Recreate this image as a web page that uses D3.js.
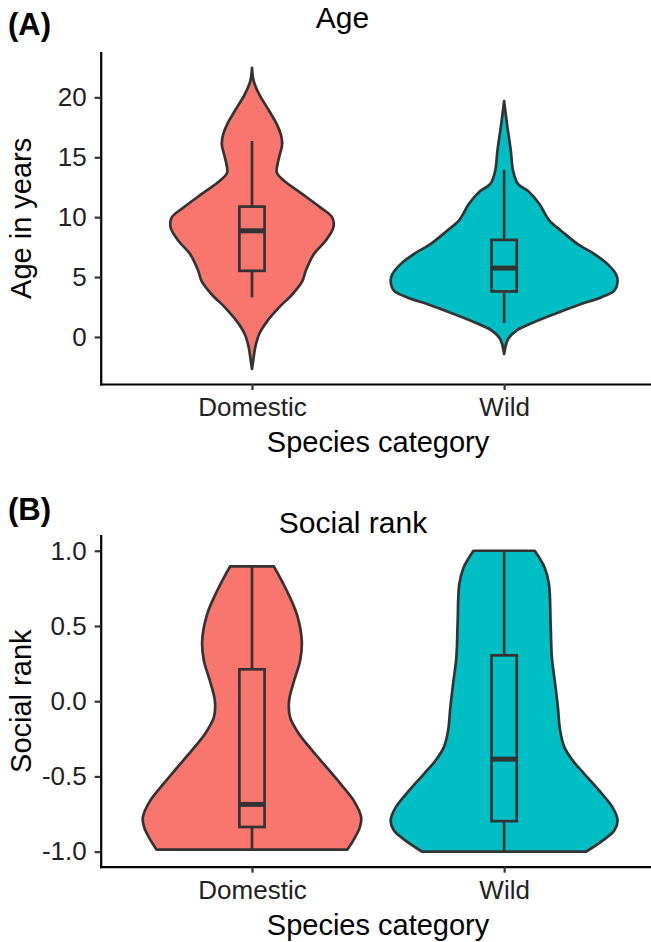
<!DOCTYPE html>
<html>
<head>
<meta charset="utf-8">
<script src="https://cdn.jsdelivr.net/npm/d3@7"></script>
<style>
  body { margin: 0; background: #fff; }
  text { font-family: "Liberation Sans", Arial, sans-serif; }
</style>
</head>
<body>
<div id="chart"></div>
<script>
const categories = ["Domestic", "Wild"];
const colors = ["#F8766D", "#00BFC4"];

// (A) Age: tick values and violin outlines (value, relative half width, 1 = widest)
const ageTicks = [0, 5, 10, 15, 20];
const ageDomesticValues = [22.47, 21.36, 20.25, 18.86, 17.75, 16.92, 16.08, 15.25, 14.42, 13.72, 13.03, 11.92, 10.8, 9.97, 9.14, 8.03, 6.92, 5.53, 4.69, 3.58, 2.47, 1.36, 0.25, -0.86, -1.97, -2.67];
const ageDomesticWidths = [0, 0.015, 0.064, 0.152, 0.219, 0.254, 0.266, 0.246, 0.225, 0.219, 0.283, 0.445, 0.605, 0.708, 0.717, 0.649, 0.546, 0.474, 0.445, 0.357, 0.239, 0.138, 0.064, 0.029, 0.011, 0];
const ageWildValues = [19.69, 17.75, 15.53, 13.86, 12.75, 12.19, 11.08, 10.25, 9.69, 8.86, 7.75, 6.92, 6.08, 5.25, 4.69, 3.86, 3.3, 2.75, 1.92, 1.08, 0.53, -0.17, -1.42];
const ageWildWidths = [0, 0.026, 0.059, 0.079, 0.123, 0.211, 0.313, 0.362, 0.401, 0.503, 0.649, 0.796, 0.912, 0.985, 1.0, 0.971, 0.854, 0.678, 0.445, 0.225, 0.108, 0.035, 0];
// box stats per category
const ageLower = [3.3, 1.17];
const ageQ1 = [5.52, 3.8];
const ageMedian = [8.86, 5.75];
const ageQ3 = [10.88, 8.1];
const ageUpper = [16.36, 13.94];

// (B) Social rank
const rankTicks = [-1, -0.5, 0, 0.5, 1];
const rankTickLabels = ["-1.0", "-0.5", "0.0", "0.5", "1.0"];
const rankDomesticValues = [0.896, 0.734, 0.579, 0.402, 0.269, 0.136, 0.003, -0.108, -0.218, -0.329, -0.44, -0.55, -0.661, -0.772, -0.839, -0.927, -0.987];
const rankDomesticWidths = [0.193, 0.307, 0.395, 0.439, 0.424, 0.371, 0.327, 0.336, 0.415, 0.532, 0.658, 0.781, 0.897, 0.962, 0.95, 0.892, 0.84];
const rankWildValues = [1.0, 0.889, 0.779, 0.513, 0.291, 0.114, -0.041, -0.196, -0.307, -0.395, -0.484, -0.595, -0.706, -0.794, -0.86, -0.927, -1.0];
const rankWildWidths = [0.27, 0.357, 0.395, 0.41, 0.421, 0.45, 0.474, 0.494, 0.532, 0.605, 0.708, 0.839, 0.956, 1.0, 0.971, 0.868, 0.724];
const rankLower = [-0.987, -1.0];
const rankQ1 = [-0.836, -0.797];
const rankMedian = [-0.686, -0.385];
const rankQ3 = [0.212, 0.305];
const rankUpper = [0.896, 1.0];

const width = 651;
const height = 942;
const left = 100.7;  // y axis position
const right = 655.4; // panel runs a little past the picture edge
const dark = "#333333";
const lw = 2.7;

const svg = d3.select("#chart")
  .append("svg")
  .attr("width", width)
  .attr("height", height)
  .attr("viewBox", `0 0 ${width} ${height}`);

const x = d3.scalePoint().domain(categories).range([left, right]).padding(0.6);
const step = x.step();

function drawPanel(p) {
  const g = svg.append("g");

  const all = p.violins.flatMap((v) => v.values);
  const [lo, hi] = d3.extent(all);
  const pad = (hi - lo) * 0.05;
  const y = d3.scaleLinear().domain([lo - pad, hi + pad]).range([p.bottom, p.top]);
  const w = d3.scaleLinear().domain([0, 1]).range([0, step * 0.45]);

  // violins
  p.violins.forEach((v, i) => {
    const cx = x(categories[i]);
    const pts = v.values.map((val, j) => ({ v: val, w: v.widths[j] }));
    const area = d3.area()
      .y((d) => y(d.v))
      .x0((d) => cx - w(d.w))
      .x1((d) => cx + w(d.w))
      .curve(d3.curveCatmullRom);
    g.append("path")
      .attr("d", area(pts))
      .attr("fill", colors[i])
      .attr("stroke", dark)
      .attr("stroke-width", lw)
      .attr("stroke-linejoin", "round");
  });

  // boxplots
  const bw = step * 0.1;
  categories.forEach((c, i) => {
    const cx = x(c);
    g.append("line")
      .attr("x1", cx).attr("x2", cx)
      .attr("y1", y(p.q3[i])).attr("y2", y(p.upper[i]))
      .attr("stroke", dark).attr("stroke-width", lw);
    g.append("line")
      .attr("x1", cx).attr("x2", cx)
      .attr("y1", y(p.q1[i])).attr("y2", y(p.lower[i]))
      .attr("stroke", dark).attr("stroke-width", lw);
    g.append("rect")
      .attr("x", cx - bw / 2)
      .attr("width", bw)
      .attr("y", y(p.q3[i]))
      .attr("height", y(p.q1[i]) - y(p.q3[i]))
      .attr("fill", colors[i])
      .attr("stroke", dark)
      .attr("stroke-width", lw);
    g.append("line")
      .attr("x1", cx - bw / 2).attr("x2", cx + bw / 2)
      .attr("y1", y(p.median[i])).attr("y2", y(p.median[i]))
      .attr("stroke", dark).attr("stroke-width", 5);
  });

  // y axis
  const yAxis = g.append("g")
    .attr("transform", `translate(${left},0)`)
    .call(d3.axisLeft(y)
      .tickValues(p.ticks)
      .tickFormat((d, i) => p.tickLabels[i])
      .tickSizeInner(6)
      .tickSizeOuter(0)
      .tickPadding(8));

  // x axis
  const xAxis = g.append("g")
    .attr("transform", `translate(0,${p.bottom})`)
    .call(d3.axisBottom(x).tickSizeInner(6).tickSizeOuter(0).tickPadding(8));

  [yAxis, xAxis].forEach((a) => {
    a.select(".domain").attr("stroke", "#000").attr("stroke-width", 2.2).attr("stroke-linecap", "square");
    a.selectAll(".tick line").attr("stroke", dark).attr("stroke-width", 2.2);
    a.selectAll(".tick text")
      .attr("fill", "#222")
      .style("font-size", "26px")
      .style("font-family", '"Liberation Sans", Arial, sans-serif');
  });

  // labels
  g.append("text")
    .attr("x", 8)
    .attr("y", p.tagY)
    .attr("font-size", "31px")
    .attr("font-weight", "bold")
    .attr("fill", "#000")
    .text(p.tag);

  g.append("text")
    .attr("x", p.titleX)
    .attr("y", p.titleY)
    .attr("text-anchor", "middle")
    .attr("font-size", "30px")
    .attr("fill", "#000")
    .text(p.title);

  g.append("text")
    .attr("transform", `translate(31,${(p.top + p.bottom) / 2}) rotate(-90)`)
    .attr("text-anchor", "middle")
    .attr("font-size", "29px")
    .attr("fill", "#000")
    .text(p.yTitle);

  g.append("text")
    .attr("x", (left + right) / 2)
    .attr("y", p.bottom + 68)
    .attr("text-anchor", "middle")
    .attr("font-size", "29px")
    .attr("fill", "#000")
    .text("Species category");
}

drawPanel({
  top: 52.7,
  bottom: 384,
  violins: [
    { values: ageDomesticValues, widths: ageDomesticWidths },
    { values: ageWildValues, widths: ageWildWidths }
  ],
  lower: ageLower, q1: ageQ1, median: ageMedian, q3: ageQ3, upper: ageUpper,
  ticks: ageTicks,
  tickLabels: ageTicks.map(String),
  tag: "(A)", tagY: 35,
  title: "Age", titleX: 342.5, titleY: 27.5,
  yTitle: "Age in years"
});

drawPanel({
  top: 535.7,
  bottom: 866.7,
  violins: [
    { values: rankDomesticValues, widths: rankDomesticWidths },
    { values: rankWildValues, widths: rankWildWidths }
  ],
  lower: rankLower, q1: rankQ1, median: rankMedian, q3: rankQ3, upper: rankUpper,
  ticks: rankTicks,
  tickLabels: rankTickLabels,
  tag: "(B)", tagY: 520,
  title: "Social rank", titleX: 353, titleY: 533,
  yTitle: "Social rank"
});
</script>
</body>
</html>
